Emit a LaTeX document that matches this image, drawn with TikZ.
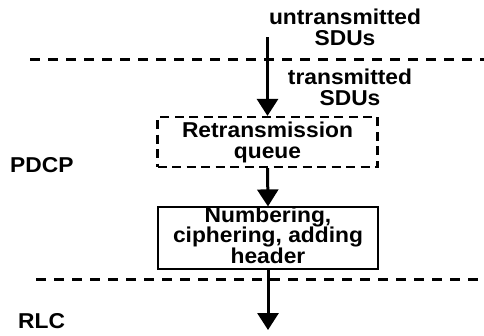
\documentclass[tikz,border=0pt]{standalone}
\usepackage{fontspec}
\setmainfont{Liberation Sans}[FakeStretch=1.06]
\usetikzlibrary{arrows.meta}
\begin{document}
\begin{tikzpicture}[x=1pt,y=-1pt,
  lbl/.style={font=\fontsize{21.5}{20.5}\selectfont\bfseries, inner sep=0pt, align=center},
  arr/.style={line width=3pt, -{Triangle[width=21pt,length=17pt]}},
  layer/.style={line width=3pt, dash pattern=on 10pt off 8pt},
  boxdash/.style={draw, line width=2.2pt, dash pattern=on 9pt off 5.5pt, minimum width=220pt, minimum height=50pt, inner sep=0pt},
  boxsolid/.style={draw, line width=1.2pt, minimum width=220pt, minimum height=62pt, inner sep=0pt}]
\useasboundingbox (0,0) rectangle (484,335);
% layer boundaries
\coordinate (l1a) at (30,59);
\coordinate (l1b) at (484,59);
\coordinate (l2a) at (36,279);
\coordinate (l2b) at (484,279);
\draw[layer] (l1a) -- (l1b);
\draw[layer] (l2a) -- (l2b);
% labels
\node[lbl, anchor=base] (untx) at (345,45) {untransmitted\\SDUs};
\node[lbl, anchor=base] (tx) at (350,105) {transmitted\\SDUs};
\node[lbl, anchor=base west] (pdcp) at (10,172) {PDCP};
\node[lbl, anchor=base west] (rlc) at (18,328) {RLC};
% boxes
\node[boxdash] (rq) at (267.5,142) {};
\node[lbl, anchor=base] (rqtxt) at (267.5,158) {Retransmission\\queue};
\node[boxsolid] (num) at (268,238) {};
\node[lbl, anchor=base] (numtxt) at (268,263) {Numbering,\\ciphering, adding\\header};
% arrows
\coordinate (top) at (267.5,37);
\coordinate (bot) at (268,330);
\draw[arr] (top) -- (rq.north);
\draw[arr] (rq.south) -- (num.north);
\draw[arr] (num.south) -- (bot);
\end{tikzpicture}
\end{document}
